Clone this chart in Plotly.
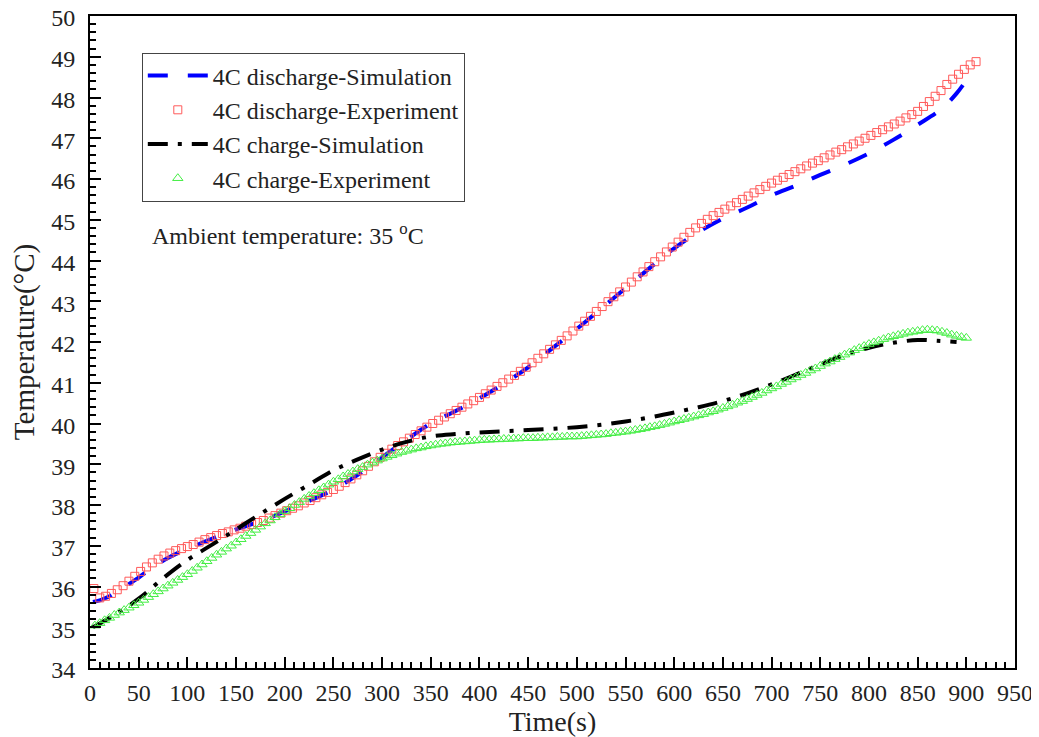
import plotly.graph_objects as go

# ---- data ----
dis_sim_t = [3, 10, 20, 30, 40, 50, 60, 70, 80, 90, 100, 125, 150, 175, 200, 225, 250, 275, 300, 325, 350, 375,
             400, 425, 450, 475, 500, 525, 550, 575, 600, 625, 650, 675, 700, 725, 750, 775, 800, 825, 850, 875, 890, 900]
dis_sim_T = [35.62, 35.66, 35.76, 35.9, 36.06, 36.22, 36.4, 36.56, 36.7, 36.82, 36.92, 37.17, 37.4, 37.6, 37.84,
             38.1, 38.38, 38.74, 39.17, 39.6, 40.0, 40.3, 40.62, 40.98, 41.38, 41.85, 42.32, 42.82, 43.32, 43.82,
             44.3, 44.7, 45.03, 45.3, 45.6, 45.84, 46.1, 46.35, 46.63, 46.96, 47.33, 47.73, 48.1, 48.42]

dis_exp_t = list(range(4, 911, 6))
dis_exp_T = [35.95, 35.72, 35.76, 35.83, 35.92, 36.02, 36.13, 36.25, 36.37, 36.48, 36.58, 36.67, 36.75, 36.82,
             36.88, 36.93, 36.98, 37.03, 37.09, 37.15, 37.2, 37.25, 37.3, 37.34, 37.39, 37.43, 37.48, 37.52,
             37.57, 37.62, 37.68, 37.74, 37.8, 37.86, 37.92, 37.98, 38.05, 38.11, 38.18, 38.25, 38.31, 38.38,
             38.46, 38.55, 38.64, 38.74, 38.84, 38.95, 39.06, 39.17, 39.27, 39.37, 39.46, 39.55, 39.64, 39.73,
             39.82, 39.91, 40.0, 40.08, 40.16, 40.24, 40.32, 40.4, 40.48, 40.56, 40.64, 40.73, 40.82, 40.91,
             41.0, 41.09, 41.18, 41.28, 41.38, 41.49, 41.6, 41.71, 41.82, 41.93, 42.04, 42.15, 42.27, 42.39,
             42.51, 42.63, 42.75, 42.87, 42.99, 43.11, 43.23, 43.35, 43.47, 43.6, 43.72, 43.85, 43.97, 44.09,
             44.21, 44.33, 44.45, 44.57, 44.69, 44.8, 44.91, 45.01, 45.1, 45.18, 45.26, 45.34, 45.42, 45.5,
             45.58, 45.66, 45.74, 45.82, 45.9, 45.97, 46.04, 46.11, 46.18, 46.25, 46.32, 46.39, 46.45, 46.52,
             46.59, 46.66, 46.72, 46.79, 46.86, 46.93, 47.0, 47.07, 47.14, 47.21, 47.28, 47.35, 47.42, 47.5,
             47.58, 47.66, 47.78, 47.9, 48.03, 48.17, 48.32, 48.45, 48.57, 48.69, 48.8, 48.88]

chg_sim_t = [3, 25, 50, 75, 100, 125, 150, 175, 200, 225, 250, 275, 300, 325, 350, 375, 400, 425, 450, 475, 500,
             525, 550, 575, 600, 625, 650, 675, 700, 725, 750, 775, 800, 825, 850, 870, 890]
chg_sim_T = [35.0, 35.3, 35.7, 36.2, 36.65, 37.02, 37.4, 37.78, 38.15, 38.5, 38.85, 39.12, 39.36, 39.55, 39.68,
             39.74, 39.78, 39.81, 39.84, 39.87, 39.91, 39.97, 40.05, 40.15, 40.27, 40.4, 40.55, 40.74, 40.96,
             41.2, 41.45, 41.68, 41.86, 41.98, 42.05, 42.03, 42.0]

chg_exp_t = list(range(5, 901, 5))
chg_exp_T = [35.04, 35.1, 35.17, 35.23, 35.3, 35.36, 35.42, 35.48, 35.54, 35.6, 35.67, 35.74, 35.81, 35.88,
             35.95, 36.02, 36.09, 36.16, 36.23, 36.3, 36.38, 36.46, 36.54, 36.62, 36.7, 36.78, 36.85, 36.93,
             37.0, 37.08, 37.16, 37.24, 37.31, 37.39, 37.47, 37.55, 37.62, 37.7, 37.77, 37.85, 37.92, 38.0,
             38.07, 38.15, 38.22, 38.29, 38.36, 38.43, 38.5, 38.57, 38.63, 38.7, 38.76, 38.82, 38.88, 38.93,
             38.99, 39.04, 39.09, 39.14, 39.18, 39.22, 39.26, 39.3, 39.33, 39.36, 39.39, 39.41, 39.44, 39.46,
             39.48, 39.5, 39.51, 39.53, 39.54, 39.55, 39.56, 39.57, 39.58, 39.59, 39.6, 39.6, 39.61, 39.61,
             39.62, 39.62, 39.63, 39.63, 39.64, 39.64, 39.64, 39.65, 39.65, 39.66, 39.66, 39.67, 39.67, 39.68,
             39.68, 39.68, 39.69, 39.7, 39.71, 39.72, 39.73, 39.74, 39.76, 39.77, 39.79, 39.8, 39.82, 39.84,
             39.86, 39.88, 39.91, 39.93, 39.96, 39.99, 40.02, 40.05, 40.08, 40.11, 40.14, 40.17, 40.2, 40.23,
             40.27, 40.3, 40.34, 40.38, 40.42, 40.46, 40.51, 40.55, 40.6, 40.65, 40.7, 40.75, 40.81, 40.86,
             40.91, 40.97, 41.02, 41.08, 41.13, 41.19, 41.24, 41.3, 41.35, 41.41, 41.47, 41.52, 41.58, 41.63,
             41.69, 41.74, 41.8, 41.85, 41.9, 41.95, 41.99, 42.03, 42.07, 42.11, 42.14, 42.17, 42.2, 42.23,
             42.25, 42.27, 42.29, 42.3, 42.29, 42.28, 42.25, 42.22, 42.18, 42.15, 42.12, 42.1]

names = ["4C discharge-Simulation", "4C discharge-Experiment", "4C charge-Simulation", "4C charge-Experiment"]
x_ticks = list(range(0, 951, 50))
y_ticks = list(range(34, 51, 1))

FONT = "Liberation Serif, Times New Roman, serif"
RED = "#ff5a5a"
GREEN = "#44ee44"

fig = go.Figure()
fig.add_trace(go.Scatter(x=dis_sim_t, y=dis_sim_T, mode="lines", name=names[0],
                         line=dict(color="#0000ff", width=4, dash="20px,20px", shape="spline")))
fig.add_trace(go.Scatter(x=dis_exp_t, y=dis_exp_T, mode="markers", name=names[1],
                         marker=dict(symbol="square-open", size=8, color=RED, line=dict(width=1, color=RED))))
fig.add_trace(go.Scatter(x=chg_sim_t, y=chg_sim_T, mode="lines", name=names[2],
                         line=dict(color="#000000", width=4, dash="20px,10px,4px,10px", shape="spline")))
fig.add_trace(go.Scatter(x=chg_exp_t, y=chg_exp_T, mode="markers", name=names[3],
                         marker=dict(symbol="triangle-up-open", size=9, color=GREEN, line=dict(width=1, color=GREEN))))

fig.update_layout(
    width=1031, height=729,
    margin=dict(l=82, r=24, t=8, b=69),
    paper_bgcolor="white", plot_bgcolor="white",
    font=dict(family=FONT, size=24, color="#222"),
    legend=dict(x=0.056, y=0.944, xanchor="left", yanchor="top",
                bgcolor="white", bordercolor="#444", borderwidth=1,
                font=dict(size=24, family=FONT), traceorder="normal", itemwidth=60,
                tracegroupgap=0),
    annotations=[dict(x=0.065, y=0.665, xref="paper", yref="paper", xanchor="left", yanchor="middle",
                      text="Ambient temperature: 35 <sup>o</sup>C", showarrow=False,
                      font=dict(size=24, family=FONT, color="#222"))],
)

fig.update_xaxes(range=[0, 950], tickvals=x_ticks, ticks="inside", ticklen=11, tickwidth=2, tickcolor="black",
                 showline=True, linecolor="black", linewidth=2, mirror=True, showgrid=False, zeroline=False,
                 automargin=False, ticklabelstandoff=2, ticklabeloverflow="allow",
                 minor=dict(dtick=10, ticks="inside", ticklen=6, tickwidth=2, tickcolor="black", showgrid=False),
                 title=dict(text="Time(s)", font=dict(size=28, family=FONT), standoff=4),
                 tickfont=dict(size=24, family=FONT))
fig.update_yaxes(range=[34, 50], tickvals=y_ticks, ticks="inside", ticklen=11, tickwidth=2, tickcolor="black",
                 showline=True, linecolor="black", linewidth=2, mirror=True, showgrid=False, zeroline=False,
                 automargin=False, ticklabelstandoff=8, ticklabeloverflow="allow", ticklabelshift=2,
                 minor=dict(dtick=0.2, ticks="inside", ticklen=6, tickwidth=2, tickcolor="black", showgrid=False),
                 title=dict(text="Temperature(°C)", font=dict(size=29, family=FONT), standoff=10),
                 tickfont=dict(size=24, family=FONT))

fig.write_html("out.html")
